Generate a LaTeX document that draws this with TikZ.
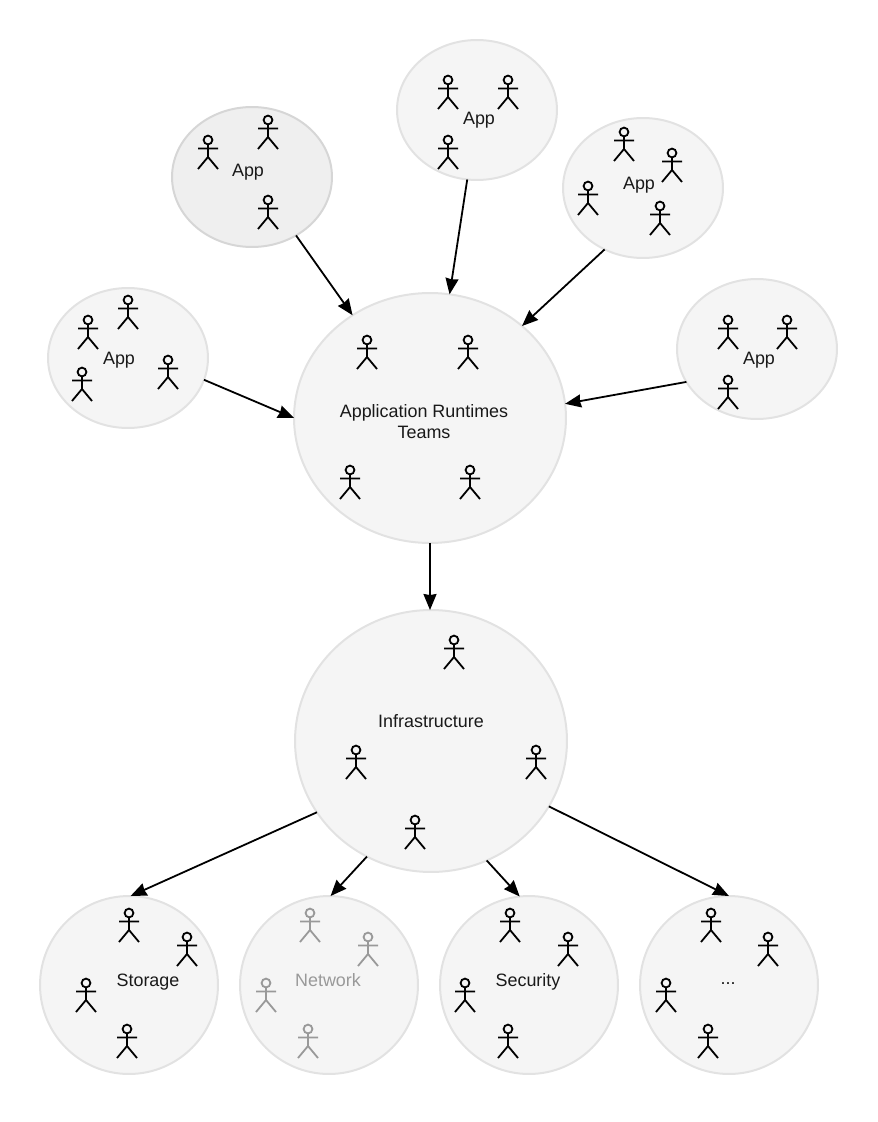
\documentclass[tikz,border=0pt]{standalone}
\usepackage{fontspec}
\setmainfont{Liberation Sans}
\usetikzlibrary{
  shapes.geometric,
  arrows.meta
}
\definecolor{teamfill}{RGB}{245,245,245}
\definecolor{appfill}{RGB}{239,239,239}
\definecolor{teamedge}{RGB}{226,226,226}
\definecolor{appedge}{RGB}{214,214,214}
\definecolor{fadegray}{RGB}{153,153,153}
\definecolor{inkgray}{RGB}{25,25,25}

\begin{document}
\begin{tikzpicture}[
  x=0.02cm, y=-0.02cm,
  team/.style={draw=teamedge, fill=teamfill, ellipse, line width=0.04cm,
               inner sep=0pt, outer sep=0pt},
  app/.style={team, minimum width=3.2cm, minimum height=2.8cm},
  hub/.style={team, minimum width=5.44cm},
  pod/.style={team, minimum width=3.56cm, minimum height=3.56cm},
  lbl/.style={font=\fontsize{10.2}{12}\selectfont, text=inkgray, align=center, inner sep=0pt},
  flow/.style={-{Stealth[length=0.32cm,width=0.26cm,inset=0.02cm]}, line width=0.036cm, black},
  actor/.pic={
    \draw[line width=0.036cm] (0,0) circle (4.4);
    \draw[line width=0.036cm] (0,4.4) -- (0,17) (-10,8.5) -- (10,8.5)
      (-10,29) -- (0,17) -- (10,29);
  }
]
\useasboundingbox (0,0) rectangle (877,1122);

%% Application bubbles
\node[app, fill=appfill, draw=appedge] (appa) at (252,177) {};
\node[app] (appb) at (477,110) {};
\node[app] (appc) at (643,188) {};
\node[app] (appd) at (128,358) {};
\node[app] (appe) at (757,349) {};

%% Central bubbles
\node[hub, minimum height=5.0cm]  (runtime) at (430,418) {};
\node[hub, minimum height=5.24cm] (infra)   at (431,741) {};

%% Bottom row: specialist teams
\node[pod] (storage)  at (129,985) {};
\node[pod] (network)  at (329,985) {};
\node[pod] (security) at (529,985) {};
\node[pod] (others)   at (729,985) {};

%% Labels
\node[lbl] (appatext) at (248,172) {App};
\node[lbl] (appbtext) at (479,120) {App};
\node[lbl] (appctext) at (639,185) {App};
\node[lbl] (appdtext) at (119,360) {App};
\node[lbl] (appetext) at (759,360) {App};
\node[lbl] (runtimetext) at (424,422) {Application Runtimes\\Teams};
\node[lbl] (infratext) at (431,721) {Infrastructure};
\node[lbl] (storagetext) at (148,982) {Storage};
\node[lbl, text=fadegray] (networktext) at (328,980) {Network};
\node[lbl] (securitytext) at (528,982) {Security};
\node[lbl] (otherstext) at (728,984) {...};

%% People in the application bubbles
\pic at (208,140) {actor}; \pic at (268,120) {actor}; \pic at (268,200) {actor};
\pic at (448,80) {actor}; \pic at (508,80) {actor}; \pic at (448,140) {actor};
\pic at (624,132) {actor}; \pic at (672,153) {actor}; \pic at (588,186) {actor}; \pic at (660,206) {actor};
\pic at (88,320) {actor}; \pic at (128,300) {actor}; \pic at (82,372) {actor}; \pic at (168,360) {actor};
\pic at (728,320) {actor}; \pic at (787,320) {actor}; \pic at (728,380) {actor};

%% People in the central bubbles
\pic at (367,340) {actor}; \pic at (468,340) {actor}; \pic at (350,470) {actor}; \pic at (470,470) {actor};
\pic at (454,640) {actor}; \pic at (356,750) {actor}; \pic at (536,750) {actor}; \pic at (415,820) {actor};

%% People in the bottom row
\pic at (129,913) {actor}; \pic at (187,937) {actor}; \pic at (86,983) {actor}; \pic at (127,1029) {actor};
\pic[fadegray] at (310,913) {actor}; \pic[fadegray] at (368,937) {actor};
\pic[fadegray] at (266,983) {actor}; \pic[fadegray] at (308,1029) {actor};
\pic at (510,913) {actor}; \pic at (568,937) {actor}; \pic at (465,983) {actor}; \pic at (508,1029) {actor};
\pic at (711,913) {actor}; \pic at (768,937) {actor}; \pic at (666,983) {actor}; \pic at (708,1029) {actor};

%% Apps into the runtime teams
\draw[flow] (appa.-53.7)  -- (runtime.127.5);
\draw[flow] (appb.-98)    -- (runtime.81);
\draw[flow] (appc.-122.6) -- (runtime.45);
\draw[flow] (appd.-16)    -- (runtime.180.8);
\draw[flow] (appe.-155.4) -- (runtime.6.2);

%% Runtime teams down to infrastructure
\draw[flow] (runtime.south) -- (runtime.south |- infra.north);

%% Infrastructure fan-out
\draw[flow] (infra.-148.7) -- (storage.89);
\draw[flow] (infra.-119.9) -- (network.89);
\draw[flow] (infra.-65.4)  -- (security.96.4);
\draw[flow] (infra.-29.8)  -- (others.90);
\end{tikzpicture}
\end{document}
